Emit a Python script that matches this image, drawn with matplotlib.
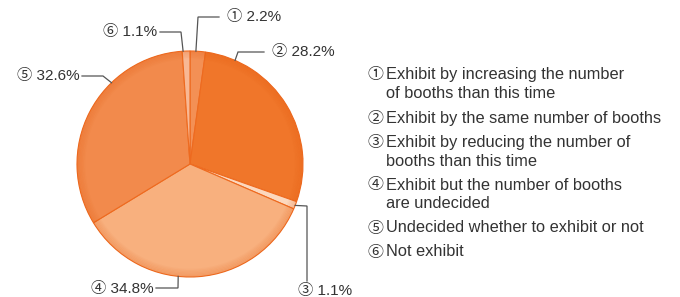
import matplotlib
matplotlib.use('Agg')
import numpy as np
import matplotlib.pyplot as plt
from matplotlib.patches import Circle

# data
shares = [2.2, 28.2, 1.1, 34.8, 32.6, 1.1]
marks = ['\u2460', '\u2461', '\u2462', '\u2463', '\u2464', '\u2465']
legend_lines = [
    ['Exhibit by increasing the number', 'of booths than this time'],
    ['Exhibit by the same number of booths'],
    ['Exhibit by reducing the number of', 'booths than this time'],
    ['Exhibit but the number of booths', 'are undecided'],
    ['Undecided whether to exhibit or not'],
    ['Not exhibit'],
]
colors = ['#f39055', '#f0762a', '#fcd8be', '#f8b07e', '#f28a4c', '#f8b894']

FONT = ['Liberation Sans', 'Noto Sans CJK JP', 'DejaVu Sans']
plt.rcParams['font.family'] = FONT

H = 297
fig = plt.figure(figsize=(6.8, 2.97), dpi=100)
ax = fig.add_axes([0, 0, 1, 1])

cx, cy, r = 190, H - 164, 113
wedges, _ = ax.pie(shares, colors=colors, startangle=90, counterclock=False,
                   center=(cx, cy), radius=r, frame=True,
                   wedgeprops=dict(edgecolor='#ee6a1f', linewidth=0.8))
# soft darker rim
for k in range(6):
    ax.add_patch(Circle((cx, cy), r - 0.8 - k * 1.3, fill=False,
                        edgecolor='#e4580c', lw=1.4, alpha=0.16 - k * 0.025))
ax.set_xlim(0, 680)
ax.set_ylim(0, H)
ax.set_axis_off()

# leader lines: (angle on rim, elbow path in pixels, text pos, ha)
leaders = [
    (87, [(198, 17), (219, 17)], (227, 17), 'left'),
    (66.5, [(238, 52), (264, 52)], (272, 52), 'left'),
    (-21.5, [(307, 206), (307, 281)], (298, 291), 'left'),
    (-96, [(178, 288), (156, 288)], (154, 289), 'right'),
    (134, [(103, 76), (82, 76)], (80, 76), 'right'),
    (93.5, [(181, 32), (160, 32)], (157, 32), 'right'),
]
for i, (ang, path, tpos, ha) in enumerate(leaders):
    a = np.deg2rad(ang)
    x0, y0 = cx + r * np.cos(a), cy + r * np.sin(a)
    xs = [x0] + [p[0] for p in path]
    ys = [y0] + [H - p[1] for p in path]
    ax.plot(xs, ys, color='#555555', lw=0.9, solid_joinstyle='miter')
    ax.text(tpos[0], H - tpos[1], '%s %.1f%%' % (marks[i], shares[i]),
            ha=ha, va='center', fontsize=11, color='#333333')

# legend
y = 75
for i, lines in enumerate(legend_lines):
    ax.text(375, H - y, marks[i], ha='center', va='center', fontsize=11.5,
            color='#333333')
    for j, line in enumerate(lines):
        ax.text(386, H - y, line, ha='left', va='center', fontsize=11.8,
                color='#333333')
        y += 19
    y += 5

fig.savefig('out.png', dpi=100)
